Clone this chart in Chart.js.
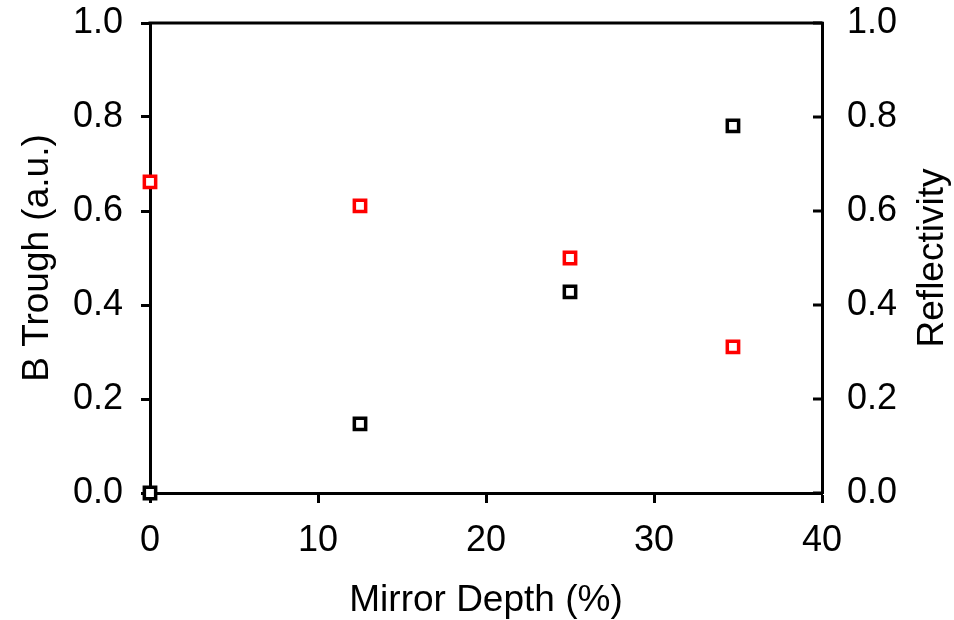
<!DOCTYPE html>
<html>
<head>
<meta charset="utf-8">
<script src="https://cdn.jsdelivr.net/npm/chart.js@4"></script>
<style>
  html, body { margin: 0; padding: 0; background: #fff; }
</style>
</head>
<body>
<canvas id="depthChart" width="954" height="620"></canvas>
<script>
// Mirror depth sweep: trough depth (left) and reflectivity (right)
const depth = [0, 12.5, 25, 34.7];
const bTrough = [0.0, 0.147, 0.428, 0.781];
const reflectivity = [0.662, 0.611, 0.5, 0.311];
const xTicks = [0, 10, 20, 30, 40];
const yTicks = [0.0, 0.2, 0.4, 0.6, 0.8, 1.0];

const FONT = "'Liberation Sans', Arial, sans-serif";
const tickFont = { family: FONT, size: 36 };

function toPoints(xs, ys) {
  return xs.map((x, i) => ({ x: x, y: ys[i] }));
}

// keep tick labels from pushing the plot area around
function noOverhang(s) {
  s.paddingTop = 0;
  s.paddingBottom = 0;
  s.paddingLeft = 0;
  s.paddingRight = 0;
}

// Top frame line, inward ticks on the right axis, rotated axis titles
const framePlugin = {
  id: "frame",
  afterDraw(chart) {
    const ctx = chart.ctx;
    const area = chart.chartArea;
    const y2 = chart.scales.y2;
    ctx.save();
    ctx.strokeStyle = "#000";
    ctx.lineWidth = 3;
    ctx.beginPath();
    ctx.moveTo(area.left - 1.5, area.top);
    ctx.lineTo(area.right + 1.5, area.top);
    ctx.stroke();
    yTicks.forEach(v => {
      const py = y2.getPixelForValue(v);
      ctx.beginPath();
      ctx.moveTo(area.right - 9, py);
      ctx.lineTo(area.right, py);
      ctx.stroke();
    });

    ctx.fillStyle = "#000";
    ctx.font = "37px " + FONT;
    ctx.textAlign = "center";
    ctx.textBaseline = "middle";
    const midY = (area.top + area.bottom) / 2;

    ctx.save();
    ctx.translate(38, midY);
    ctx.rotate(-Math.PI / 2);
    ctx.fillText("B Trough (a.u.)", 0, 0);
    ctx.restore();

    ctx.save();
    ctx.translate(933, midY);
    ctx.rotate(-Math.PI / 2);
    ctx.fillText("Reflectivity", 0, 0);
    ctx.restore();

    ctx.fillText("Mirror Depth (%)", (area.left + area.right) / 2, area.bottom + 108);
    ctx.restore();
  }
};

new Chart(document.getElementById("depthChart"), {
  type: "scatter",
  data: {
    datasets: [
      {
        label: "B Trough",
        data: toPoints(depth, bTrough),
        yAxisID: "y",
        pointStyle: "rect",
        pointRadius: 8,
        borderWidth: 3.5,
        borderColor: "#000",
        backgroundColor: "#fff",
        clip: false
      },
      {
        label: "Reflectivity",
        data: toPoints(depth, reflectivity),
        yAxisID: "y2",
        pointStyle: "rect",
        pointRadius: 8,
        borderWidth: 3.5,
        borderColor: "#ff0000",
        backgroundColor: "#fff",
        clip: false
      }
    ]
  },
  options: {
    responsive: false,
    animation: false,
    layout: { padding: { top: 23, left: 0, right: 0, bottom: 0 } },
    plugins: {
      legend: { display: false },
      tooltip: { enabled: false }
    },
    scales: {
      x: {
        type: "linear",
        position: "bottom",
        min: 0,
        max: 40,
        afterBuildTicks: s => { s.ticks = xTicks.map(v => ({ value: v })); },
        afterFit: s => { s.height = 127; noOverhang(s); },
        ticks: { color: "#000", font: tickFont, padding: 16, maxRotation: 0 },
        grid: { drawOnChartArea: false, tickLength: 10, tickWidth: 3, tickColor: "#000" },
        border: { display: true, width: 3, color: "#000" }
      },
      y: {
        type: "linear",
        position: "left",
        min: 0,
        max: 1,
        afterBuildTicks: s => { s.ticks = yTicks.map(v => ({ value: v })); },
        afterFit: s => { s.width = 150; noOverhang(s); },
        ticks: { color: "#000", font: tickFont, padding: 18, callback: v => v.toFixed(1) },
        grid: { drawOnChartArea: false, tickLength: 9, tickWidth: 3, tickColor: "#000" },
        border: { display: true, width: 3, color: "#000" }
      },
      y2: {
        type: "linear",
        position: "right",
        min: 0,
        max: 1,
        afterBuildTicks: s => { s.ticks = yTicks.map(v => ({ value: v })); },
        afterFit: s => { s.width = 132; noOverhang(s); },
        ticks: { color: "#000", font: tickFont, padding: 17, callback: v => v.toFixed(1) },
        grid: { display: false },
        border: { display: true, width: 3, color: "#000" }
      }
    }
  },
  plugins: [framePlugin]
});
</script>
</body>
</html>
